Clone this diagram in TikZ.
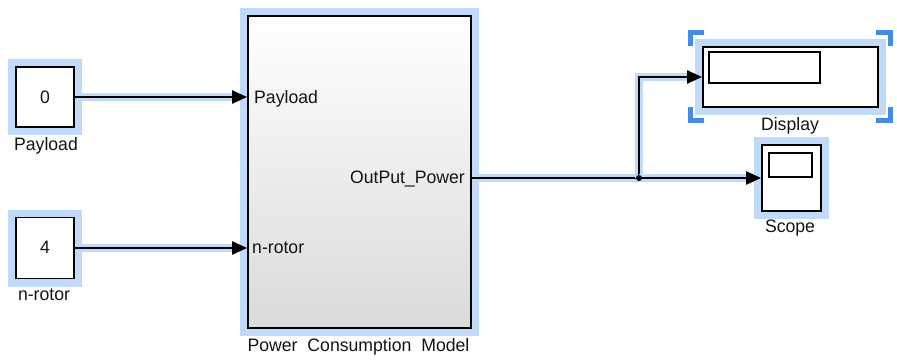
\documentclass[tikz,border=0pt]{standalone}
\usepackage{fontspec}
\setmainfont{Liberation Sans}[FakeStretch=0.98]
\usetikzlibrary{arrows.meta}
\definecolor{halo}{RGB}{193,218,250}
\definecolor{selblue}{RGB}{66,140,232}
\definecolor{txt}{RGB}{20,20,20}
\definecolor{shadebot}{RGB}{218,218,218}
\begin{document}
\begin{tikzpicture}[x=1pt,y=-1pt,
  every node/.style={font=\fontsize{18}{21}\selectfont, text=txt, inner sep=0pt},
  blk/.style={draw=black, line width=1.8pt, fill=white, preaction={draw=halo, line width=16pt}},
  inbox/.style={draw=black, line width=1.5pt, fill=white},
  conn/.style={line width=2pt, preaction={draw=halo, line width=8pt}},
  tip/.style={-{Triangle[length=15pt,width=13pt]}},
  brk/.style={draw=selblue, line width=4.5pt, line cap=butt},
  lbl/.style={anchor=base}]
\useasboundingbox (0,0) rectangle (897,361);
% constant blocks
\node[blk, minimum width=58pt, minimum height=60pt] (c0) at (45,97) {};
\node[lbl] (v0) at (45,103) {0};
\node[lbl] (lc0) at (46,150) {Payload};
\node[blk, minimum width=58pt, minimum height=61pt] (c4) at (45,248) {};
\node[lbl] (v4) at (45,253.5) {4};
\node[lbl] (lc4) at (44,300.5) {n-rotor};
% main subsystem
\node[blk, top color=white, bottom color=shadebot, minimum width=223pt, minimum height=312pt] (pcm) at (359.5,172) {};
\node[lbl] (lpcm) at (358.5,351) {Power\hspace{5pt} Consumption\hspace{5pt} Model};
\node[anchor=base west] (pin1) at (254,103) {Payload};
\node[anchor=base west] (pin2) at (252,253.5) {n-rotor};
\node[anchor=base east] (pout) at (465,183) {OutPut\_Power};
% display
\node[blk, minimum width=175pt, minimum height=60pt] (disp) at (790.5,77) {};
\node[inbox, minimum width=111pt, minimum height=31pt] (dwin) at (764.5,67.5) {};
\node[lbl] (ldisp) at (790,130) {Display};
\draw[brk] (690.5,46) -- (690.5,32.5) -- (704,32.5);
\draw[brk] (876,32.5) -- (890.5,32.5) -- (890.5,46);
\draw[brk] (690.5,107) -- (690.5,120.5) -- (704,120.5);
\draw[brk] (876,120.5) -- (890.5,120.5) -- (890.5,107);
% scope
\node[blk, minimum width=59pt, minimum height=66pt] (scope) at (791.5,178) {};
\node[inbox, minimum width=43pt, minimum height=24pt] (swin) at (790.5,165) {};
\node[lbl] (lscope) at (790,232) {Scope};
% connectors
\coordinate (out) at (pcm.east |- scope.west);
\coordinate (j) at (639,178);
\draw[conn, tip] (c0.east) -- (c0.east -| pcm.west);
\draw[conn, tip] (c4.east) -- (c4.east -| pcm.west);
\draw[conn] (out) -- (j);
\draw[conn, tip] (j) |- (disp.west);
\draw[conn, tip] (j) -- (scope.west);
\fill (j) circle (3pt);
\end{tikzpicture}
\end{document}
